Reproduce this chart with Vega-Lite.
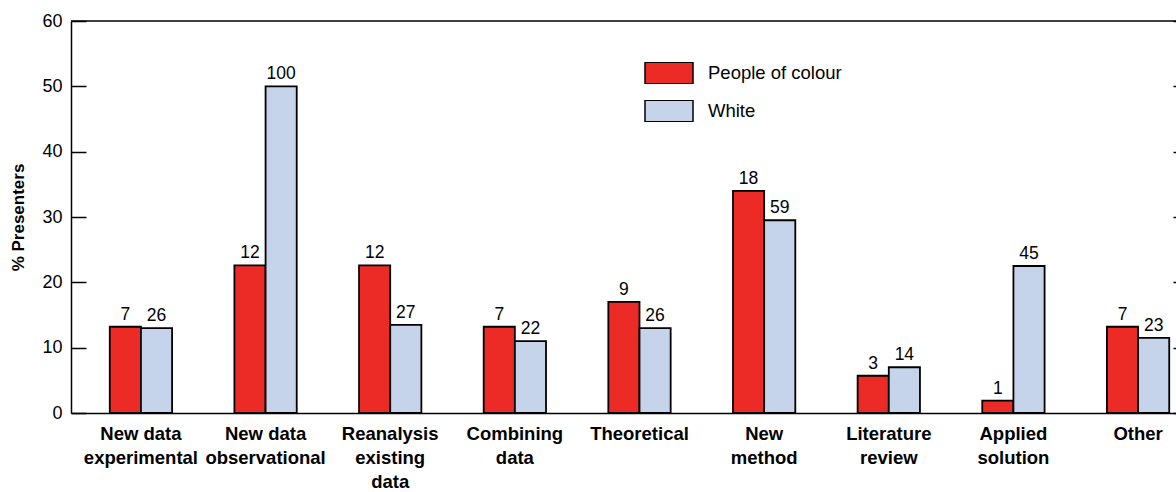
{
  "$schema": "https://vega.github.io/schema/vega-lite/v6.json",
  "width": 1137,
  "height": 392,
  "autosize": {"type": "none"},
  "padding": {"left": 71, "top": 21, "right": 0, "bottom": 79},
  "config": {
    "font": "Liberation Sans",
    "view": {"stroke": null},
    "axis": {"grid": false}
  },
  "data": {
    "values": [
      {"cat": "New data|experimental", "group": "People of colour", "pct": 13.2, "n": 7},
      {"cat": "New data|experimental", "group": "White", "pct": 13.0, "n": 26},
      {"cat": "New data|observational", "group": "People of colour", "pct": 22.6, "n": 12},
      {"cat": "New data|observational", "group": "White", "pct": 50.0, "n": 100},
      {"cat": "Reanalysis|existing|data", "group": "People of colour", "pct": 22.6, "n": 12},
      {"cat": "Reanalysis|existing|data", "group": "White", "pct": 13.5, "n": 27},
      {"cat": "Combining|data", "group": "People of colour", "pct": 13.2, "n": 7},
      {"cat": "Combining|data", "group": "White", "pct": 11.0, "n": 22},
      {"cat": "Theoretical", "group": "People of colour", "pct": 17.0, "n": 9},
      {"cat": "Theoretical", "group": "White", "pct": 13.0, "n": 26},
      {"cat": "New|method", "group": "People of colour", "pct": 34.0, "n": 18},
      {"cat": "New|method", "group": "White", "pct": 29.5, "n": 59},
      {"cat": "Literature|review", "group": "People of colour", "pct": 5.7, "n": 3},
      {"cat": "Literature|review", "group": "White", "pct": 7.0, "n": 14},
      {"cat": "Applied|solution", "group": "People of colour", "pct": 1.9, "n": 1},
      {"cat": "Applied|solution", "group": "White", "pct": 22.5, "n": 45},
      {"cat": "Other", "group": "People of colour", "pct": 13.2, "n": 7},
      {"cat": "Other", "group": "White", "pct": 11.5, "n": 23}
    ]
  },
  "layer": [
    {
      "mark": {"type": "bar", "stroke": "black", "strokeWidth": 1.8},
      "encoding": {
        "x": {
          "field": "cat", "type": "nominal", "sort": null,
          "scale": {"paddingInner": 0.5, "paddingOuter": 0.311},
          "axis": {
            "title": null, "labelExpr": "split(datum.value, '|')", "labelAngle": 0,
            "labelFontWeight": "bold", "labelFontSize": 18.5, "labelLineHeight": 24,
            "labelColor": "black", "ticks": false, "domainColor": "black", "domainWidth": 1.5,
            "labelPadding": 11
          }
        },
        "xOffset": {"field": "group", "type": "nominal", "scale": {"domain": ["People of colour", "White"], "paddingInner": 0, "paddingOuter": 0}},
        "y": {
          "field": "pct", "type": "quantitative",
          "scale": {"domain": [0, 60], "nice": false},
          "axis": {
            "values": [0, 10, 20, 30, 40, 50, 60], "tickSize": -15, "labelPadding": 24,
            "domainColor": "black", "domainWidth": 1.5, "tickColor": "black", "tickWidth": 1.5,
            "labelFontSize": 18, "labelColor": "black",
            "title": "% Presenters", "titleFontSize": 17, "titleFontWeight": "bold", "titleColor": "black", "titlePadding": 14
          }
        },
        "color": {
          "field": "group", "type": "nominal",
          "scale": {"domain": ["People of colour", "White"], "range": ["#EC2A26", "#C6D4EB"]},
          "legend": {
            "title": null, "orient": "none", "legendX": 573, "legendY": 41, "padding": 0,
            "symbolType": "M-1,-0.45H1V0.45H-1Z", "symbolSize": 2304, "clipHeight": 22,
            "symbolStrokeColor": "black", "symbolStrokeWidth": 1.5, "symbolOpacity": 1,
            "labelFontSize": 18.5, "labelColor": "black", "labelOffset": 14, "rowPadding": 16
          }
        }
      }
    },
    {
      "mark": {"type": "text", "baseline": "bottom", "dy": -3, "fontSize": 17.5, "color": "black"},
      "encoding": {
        "x": {"field": "cat", "type": "nominal", "sort": null},
        "xOffset": {"field": "group", "type": "nominal", "scale": {"domain": ["People of colour", "White"]}},
        "y": {"field": "pct", "type": "quantitative", "axis": null},
        "text": {"field": "n", "type": "quantitative"}
      }
    },
    {
      "data": {"values": [{"top": 60}]},
      "mark": {"type": "rule", "color": "black", "strokeWidth": 1.5},
      "encoding": {
        "y": {
          "field": "top", "type": "quantitative",
          "axis": {
            "orient": "right", "offset": -20, "values": [0, 10, 20, 30, 40, 50, 60], "labels": false, "domain": false,
            "tickSize": -15, "tickColor": "black", "tickWidth": 1.5, "title": null
          }
        }
      }
    }
  ],
  "resolve": {"axis": {"y": "independent"}}
}
